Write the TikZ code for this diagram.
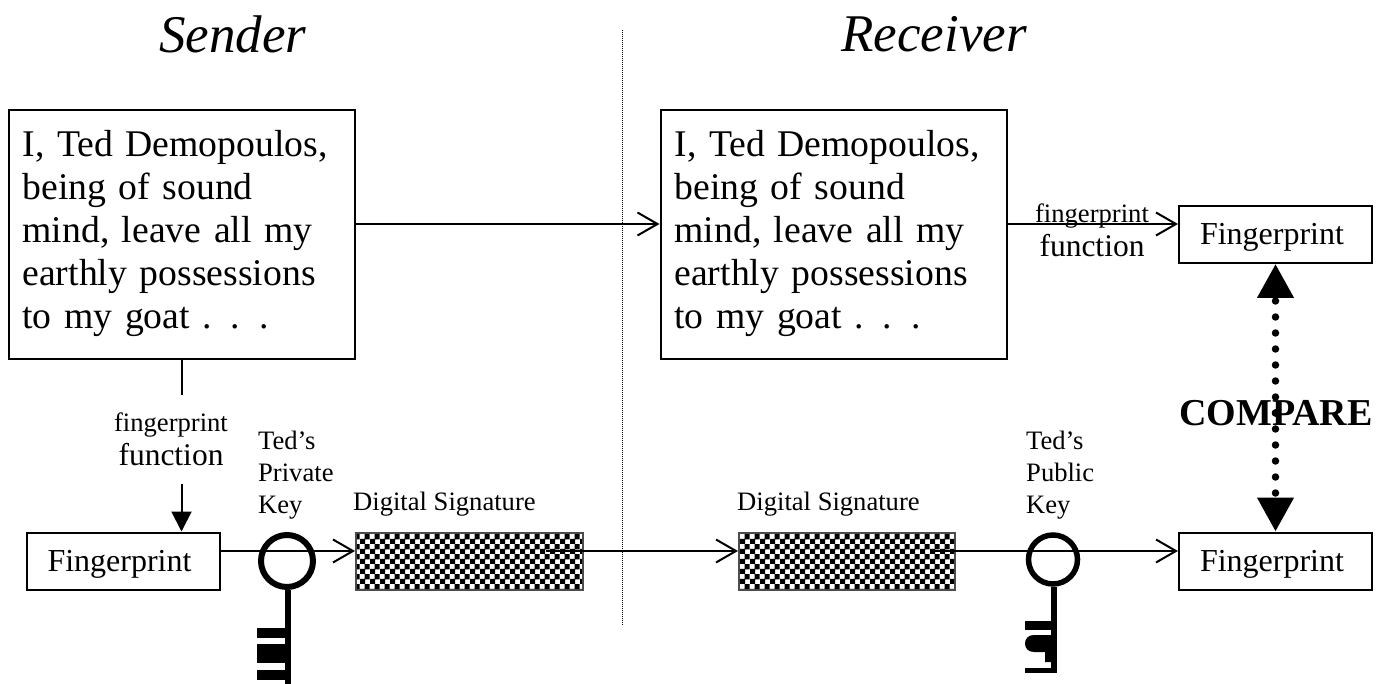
\documentclass[tikz,border=0pt]{standalone}
\usepackage{fontspec}
\setmainfont{Liberation Serif}
\usepackage{tikz}
\usetikzlibrary{arrows.meta,patterns,positioning}

\pgfdeclarepatternformonly{sigcheck}{\pgfqpoint{0pt}{0pt}}{\pgfqpoint{10pt}{10pt}}{\pgfqpoint{10pt}{10pt}}{
  \pgfpathrectangle{\pgfqpoint{0pt}{0pt}}{\pgfqpoint{5.6pt}{5.6pt}}
  \pgfpathrectangle{\pgfqpoint{5pt}{5pt}}{\pgfqpoint{5.6pt}{5.6pt}}
  \pgfusepath{fill}}

\begin{document}
\begin{tikzpicture}[x=1pt,y=-1pt]
  \tikzset{
    sidetitle/.style={font=\fontsize{53}{60}\selectfont\itshape},
    docbox/.style={draw,line width=2pt,minimum height=249pt,inner xsep=14pt,
      text width=318pt,text depth=183pt,align=left,font=\fontsize{37.7}{43}\selectfont},
    printbox/.style={draw,line width=2pt,minimum height=57pt,inner xsep=21pt,text width=151pt,
      text height=24pt,text depth=4pt,align=left,font=\fontsize{32}{36}\selectfont},
    sigbox/.style={draw=black!70,line width=2pt,minimum height=57pt,fill=black!12,pattern=sigcheck,pattern color=black},
    smalltext/.style={font=\fontsize{26.6}{32}\selectfont,align=left,inner sep=0pt},
    fnlabel/.style={align=center,inner sep=0pt,font=\fontsize{26.6}{33}\selectfont},
    keyring/.style={circle,draw,inner sep=0pt},
    keystem/.style={line width=6pt},
    flow/.style={line width=2pt,-{Straight Barb[length=20pt,width=23pt,line width=2pt]}},
    flowsolid/.style={line width=2pt,-{Stealth[inset=0pt,sharp,length=20pt,width=20pt]}},
    comparearrow/.style={line width=7.5pt,line cap=round,dash pattern=on 0pt off 16pt,
      -{Stealth[inset=0pt,sharp,length=34pt,width=35pt]}}
  }
  \useasboundingbox (0,0) rectangle (1387,684);

  % titles
  \node[sidetitle] (sendertitle) at (233,34) {Sender};
  \node[sidetitle] (receivertitle) at (934,34) {Receiver};
  \coordinate (dividetop) at (622,30);
  \coordinate (dividebot) at (622,625);
  \draw[line width=1pt,densely dotted] (dividetop) -- (dividebot);

  % documents
  \node[docbox,minimum width=346pt] (senderdoc) at (181.5,234.5) {I, Ted Demopoulos,\\being of sound\\mind, leave all my\\earthly possessions\\to my goat . . .};
  \node[docbox,minimum width=345pt] (receiverdoc) at (833.5,234.5) {I, Ted Demopoulos,\\being of sound\\mind, leave all my\\earthly possessions\\to my goat . . .};

  % fingerprints
  \node[printbox] (senderprint) at (123,561) {Fingerprint};
  \node[printbox] (receiverprint) at (1275.5,234.5) {Fingerprint};
  \node[printbox] (checkprint) at (1275.5,561) {Fingerprint};

  % signatures
  \node[sigbox,minimum width=227pt] (sendersig) at (469.5,561) {};
  \node[sigbox,minimum width=216pt] (receiversig) at (847,561) {};
  \node[smalltext,above=27pt of sendersig.north west,anchor=west,xshift=-2pt] (sendersiglabel) {Digital Signature};
  \node[smalltext,above=27pt of receiversig.north west,anchor=west,xshift=-1pt] (receiversiglabel) {Digital Signature};

  % keys
  \node[keyring,line width=6pt,minimum size=52pt] (privatekey) at (287,561) {};
  \node[keyring,line width=5.5pt,minimum size=49pt] (publickey) at (1053,559.5) {};
  \node[smalltext,anchor=west] (privatelabel) at (258,475) {Ted’s\\Private\\Key};
  \node[smalltext,anchor=west] (publiclabel) at (1026,475) {Ted’s\\Public\\Key};
  \coordinate (privateend) at (288,684);
  \coordinate (publicend) at (1053.5,673);
  \draw[keystem] (privatekey.south -| privateend) -- (privateend);
  \draw[keystem] (publickey.south -| publicend) -- (publicend);
  \fill (257,628) rectangle (286,638);
  \fill (257,644) rectangle (286,663);
  \fill (257,670) rectangle (286,680);
  \fill (1025,621) rectangle (1052,630);
  \fill (1052,635) -- (1034,635) .. controls (1028,635) and (1025,639) .. (1025,643.5)
    .. controls (1025,648) and (1028,652) .. (1034,652) -- (1045,652) -- (1045,662) -- (1052,662) -- cycle;
  \fill (1025,668) rectangle (1052,673);

  % labels of fingerprint function
  \node[fnlabel,minimum height=89pt] (senderfn) at (171,439.5) {fingerprint\\[1pt]{\fontsize{31.5}{36}\selectfont function}};
  \node[fnlabel] (receiverfn) at (1092,230.5) {fingerprint\\[1pt]{\fontsize{31.5}{36}\selectfont function}};

  % message
  \draw[flow] ([yshift=10.5pt]senderdoc.east) -- ([yshift=10.5pt]receiverdoc.west);
  \draw[flow] ([yshift=10.5pt]receiverdoc.east) -- ([yshift=10.5pt]receiverprint.west |- receiverdoc.east);

  % sign
  \draw[line width=2pt] (senderdoc.south) -- (senderdoc.south |- senderfn.north);
  \draw[flowsolid] (senderdoc.south |- senderfn.south) -- (senderdoc.south |- senderprint.north);
  \draw[flow] ([yshift=10pt]senderprint.east) -- ([yshift=10pt]sendersig.west);
  \draw[flow] ([xshift=-38pt,yshift=10pt]sendersig.east) -- ([yshift=10pt]receiversig.west);
  \draw[flow] ([xshift=-25pt,yshift=10pt]receiversig.east) -- ([yshift=10pt]checkprint.west);

  % compare
  \node[font=\fontsize{38}{43}\selectfont\bfseries,inner sep=0pt] (comparelabel) at (1276,413) {COMPARE};
  \coordinate (comparemid) at (receiverprint.south |- comparelabel);
  \draw[comparearrow] (comparemid) -- (checkprint.north);
  \draw[comparearrow] (comparemid) -- (receiverprint.south);
\end{tikzpicture}
\end{document}
